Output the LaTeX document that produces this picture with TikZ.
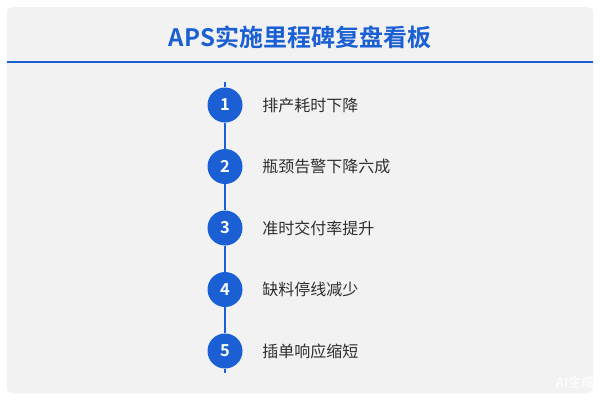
\documentclass[tikz,border=0pt]{standalone}
\usepackage{fontspec}
\setmainfont{Noto Sans CJK SC}[BoldFont={Noto Sans CJK SC Bold}]
\usetikzlibrary{positioning}

\definecolor{boardblue}{HTML}{1A5FD4}
\definecolor{panelgray}{HTML}{F2F2F2}
\definecolor{itemgray}{HTML}{2E2E2E}

\begin{document}
\begin{tikzpicture}[
    x=1pt, y=-1pt,
    panel/.style={fill=panelgray, draw=none, rounded corners=6pt},
    milestone/.style={circle, fill=boardblue, draw=none, minimum size=35pt, inner sep=0pt,
                      text=white, font=\fontsize{16.5}{17}\selectfont\bfseries},
    itemlabel/.style={anchor=west, text=itemgray, font=\fontsize{16}{16}\selectfont, inner sep=0pt},
    spine/.style={draw=boardblue, line width=2pt},
]
\useasboundingbox (0,0) rectangle (600,400);

% --- Board background and header ---
\fill[white] (0,0) rectangle (600,400);
\path[panel] (7,7) rectangle (593,393);
\node[font=\fontsize{24}{26}\selectfont\bfseries, text=boardblue] (title) at (300,37) {APS实施里程碑复盘看板};
\coordinate (ruleL) at (7,62);
\coordinate (ruleR) at (593,62);
\draw[boardblue, line width=1.6pt] (ruleL) -- (ruleR);

% --- Timeline ---
\coordinate (top) at (225,82);
\coordinate (bot) at (225,373);
\foreach \i/\txt in {1/排产耗时下降, 2/瓶颈告警下降六成, 3/准时交付率提升, 4/缺料停线减少, 5/插单响应缩短} {
    \node[milestone] (m\i) at (225, 105+61.5*\i-61.5) {\i};
    \node[itemlabel, right=19.5pt of m\i] (t\i) {\txt};
}
\draw[spine] (top) -- (m1);
\foreach \a/\b in {1/2, 2/3, 3/4, 4/5} {
    \draw[spine] (m\a) -- (m\b);
}
\draw[spine] (m5) -- (bot);

% watermark
\node[text=white, opacity=0.8, font=\fontsize{13}{13}\selectfont\bfseries] (mark) at (575,383) {AI生成};
\end{tikzpicture}
\end{document}
